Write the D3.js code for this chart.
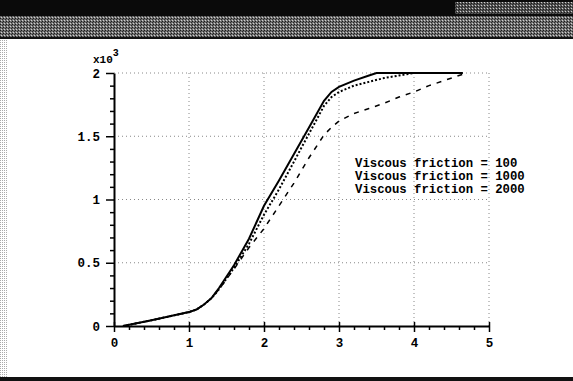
<!DOCTYPE html>
<html>
<head>
<meta charset="utf-8">
<script src="https://cdn.jsdelivr.net/npm/d3@7"></script>
<style>
  body { margin: 0; background: #fff; }
  svg { display: block; }
  .tick text { font-family: "Liberation Mono", "DejaVu Sans Mono", monospace; font-weight: bold; font-size: 12.5px; fill: #000; }
</style>
</head>
<body>
<svg id="chart" width="573" height="381"></svg>
<script>
// time axis (s) and positions (raw units, shown as x10^3)
const tFric100  = [0.12, 0.5, 1.0, 1.1, 1.2, 1.3, 1.4, 1.6, 1.8, 2.0, 2.2, 2.4, 2.6, 2.8, 2.9, 3.0, 3.2, 3.4, 3.5, 4.0, 4.65];
const posFric100 = [0, 45, 110, 130, 170, 220, 300, 480, 690, 950, 1150, 1360, 1570, 1780, 1850, 1890, 1940, 1980, 2000, 2000, 2000];

const tFric1000  = [0.12, 0.5, 1.0, 1.1, 1.2, 1.3, 1.4, 1.6, 1.8, 2.0, 2.2, 2.4, 2.6, 2.8, 2.9, 3.0, 3.2, 3.4, 3.6, 3.8, 4.0, 4.65];
const posFric1000 = [0, 45, 110, 130, 170, 220, 290, 460, 650, 880, 1080, 1300, 1520, 1740, 1810, 1850, 1900, 1930, 1960, 1980, 2000, 2000];

const tFric2000  = [0.12, 0.5, 1.0, 1.1, 1.2, 1.3, 1.4, 1.6, 1.8, 2.0, 2.2, 2.4, 2.6, 2.8, 2.9, 3.0, 3.2, 3.4, 3.6, 3.8, 4.0, 4.2, 4.4, 4.6, 4.7];
const posFric2000 = [0, 45, 110, 130, 170, 220, 290, 450, 620, 770, 950, 1130, 1330, 1510, 1570, 1620, 1680, 1720, 1760, 1810, 1850, 1900, 1940, 1980, 2000];

const legendLabels = ["Viscous friction = 100", "Viscous friction = 1000", "Viscous friction = 2000"];
const xMajor = [0, 1, 2, 3, 4, 5];
const yMajor = [0, 500, 1000, 1500, 2000];

const svg = d3.select("#chart");
const W = 573, H = 381;

// --- scanned window frame ---
const defs = svg.append("defs");
const dither = defs.append("pattern").attr("id", "dither")
    .attr("width", 3).attr("height", 3).attr("patternUnits", "userSpaceOnUse");
dither.append("rect").attr("x", 0).attr("y", 0).attr("width", 1).attr("height", 1).attr("fill", "#1a1a1a");
dither.append("rect").attr("x", 2).attr("y", 1).attr("width", 1).attr("height", 1).attr("fill", "#2a2a2a");
dither.append("rect").attr("x", 1).attr("y", 2).attr("width", 1).attr("height", 1).attr("fill", "#d0d0d0");

const edge = defs.append("pattern").attr("id", "edge")
    .attr("width", 2).attr("height", 2).attr("patternUnits", "userSpaceOnUse");
edge.append("rect").attr("width", 1).attr("height", 1).attr("fill", "#aaa");

svg.append("rect").attr("x", 0).attr("y", 0).attr("width", W).attr("height", 16).attr("fill", "#0a0a0a");
svg.append("rect").attr("x", 455).attr("y", 2).attr("width", 118).attr("height", 12).attr("fill", "#555");
svg.append("rect").attr("x", 455).attr("y", 2).attr("width", 118).attr("height", 12).attr("fill", "url(#dither)");
svg.append("rect").attr("x", 0).attr("y", 16).attr("width", W).attr("height", 22).attr("fill", "#707070");
svg.append("rect").attr("x", 0).attr("y", 16).attr("width", W).attr("height", 22).attr("fill", "url(#dither)");
svg.append("rect").attr("x", 0).attr("y", 37).attr("width", W).attr("height", 2).attr("fill", "#111");
svg.append("rect").attr("x", 0).attr("y", 39).attr("width", 7).attr("height", 338).attr("fill", "url(#edge)");
svg.append("rect").attr("x", 0).attr("y", 377).attr("width", W).attr("height", 4).attr("fill", "#111");

// --- scales ---
const x = d3.scaleLinear().domain([0, 5]).range([114, 489]);
const y = d3.scaleLinear().domain([0, 2000]).range([326, 73]);

// grid
const grid = svg.append("g").attr("stroke", "#888").attr("stroke-width", 1).attr("stroke-dasharray", "1,3");
grid.selectAll("line.gx").data(xMajor.slice(1)).join("line")
    .attr("x1", d => x(d)).attr("x2", d => x(d)).attr("y1", y(0)).attr("y2", y(2000));
grid.selectAll("line.gy").data(yMajor.slice(1)).join("line")
    .attr("x1", x(0)).attr("x2", x(5)).attr("y1", d => y(d)).attr("y2", d => y(d));

// axes
const fmtY = d => d === 0 ? "0" : d3.format("~g")(d / 1000);
svg.append("g").attr("transform", `translate(${x(0)},0)`)
    .call(d3.axisLeft(y).tickValues(yMajor).tickSize(8).tickSizeOuter(0).tickPadding(6).tickFormat(fmtY));
const yMinor = d3.range(0, 2001, 100).filter(v => v % 500 !== 0);
svg.append("g").attr("transform", `translate(${x(0)},0)`)
    .call(d3.axisLeft(y).tickValues(yMinor).tickSize(4).tickFormat(""))
    .select(".domain").remove();

const xAxis = svg.append("g").attr("transform", `translate(0,${y(0)})`)
    .call(d3.axisBottom(x).tickValues(xMajor).tickSize(6).tickSizeOuter(0).tickPadding(6).tickFormat(d3.format("d")));
xAxis.selectAll(".tick line").attr("y1", -4);
const xMinor = d3.range(0, 5.001, 0.2).filter(v => Math.abs(v - Math.round(v)) > 0.01);
svg.append("g").attr("transform", `translate(0,${y(0)})`)
    .call(d3.axisBottom(x).tickValues(xMinor).tickSize(4).tickFormat(""))
    .select(".domain").remove();

svg.selectAll(".domain").attr("stroke", "#000").attr("stroke-width", 2);
svg.selectAll(".tick line").attr("stroke", "#000").attr("stroke-width", 1.5);

// exponent label
const expo = svg.append("text").attr("x", 93).attr("y", 63)
    .attr("font-family", "Liberation Mono, monospace").attr("font-weight", "bold").attr("font-size", 11);
expo.append("tspan").text("x10");
expo.append("tspan").attr("dy", -7).attr("font-size", 10).text("3");

// curves
const line = d3.line().x(d => x(d[0])).y(d => y(d[1]));
const series = [
  { t: tFric100, p: posFric100, dash: null, w: 2 },
  { t: tFric1000, p: posFric1000, dash: "2,2", w: 2 },
  { t: tFric2000, p: posFric2000, dash: "5,6", w: 1.5 }
];
svg.append("g").selectAll("path").data(series).join("path")
    .attr("d", s => line(s.t.map((v, i) => [v, s.p[i]])))
    .attr("fill", "none").attr("stroke", "#000")
    .attr("stroke-width", s => s.w)
    .attr("stroke-dasharray", s => s.dash);

// legend text
svg.append("g").selectAll("text").data(legendLabels).join("text")
    .attr("x", 355).attr("y", (d, i) => 167 + i * 12.8)
    .attr("font-family", "Liberation Mono, monospace").attr("font-weight", "bold")
    .attr("font-size", 12.3).attr("fill", "#000")
    .text(d => d);
</script>
</body>
</html>
